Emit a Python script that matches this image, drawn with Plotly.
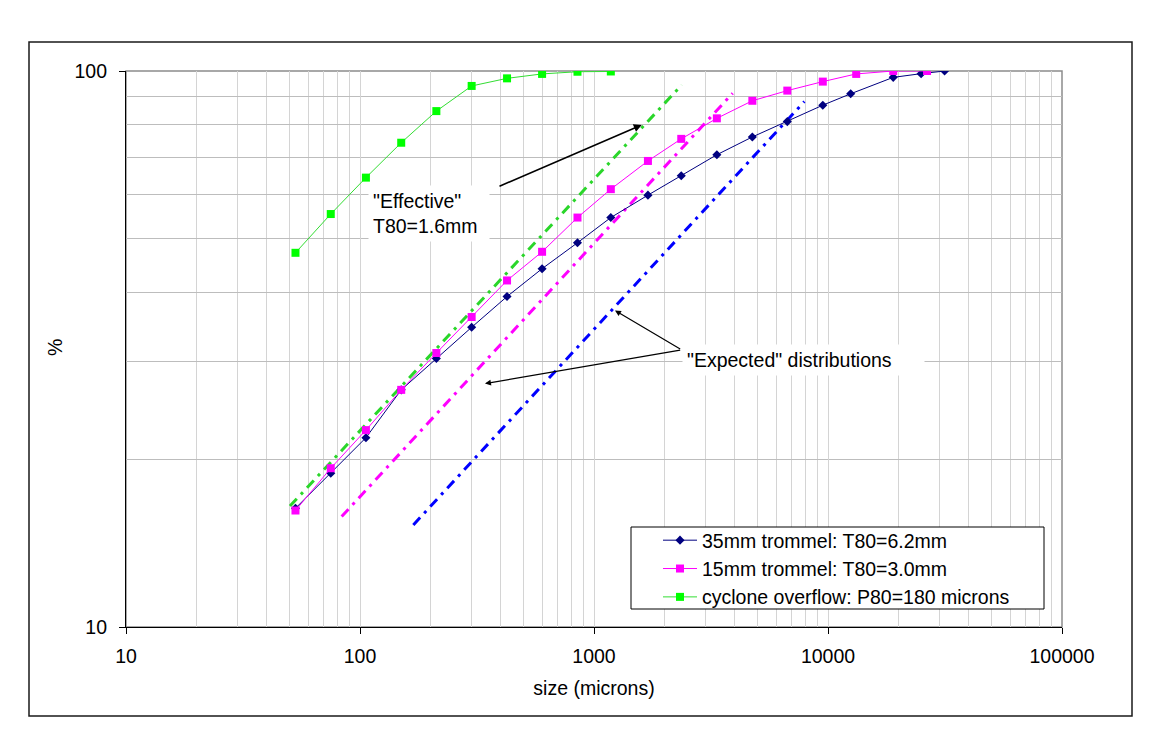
import math
import plotly.graph_objects as go

# ---------------- data ----------------
blue_x = [53, 75, 106, 150, 212, 300, 425, 600, 850, 1180, 1700, 2360, 3350, 4750, 6700, 9500, 12500, 19000, 25000, 31500]
blue_y = [16.35, 18.9, 21.9, 26.7, 30.4, 34.6, 39.3, 44.1, 49.1, 54.5, 59.8, 64.8, 70.7, 76.1, 81.1, 86.8, 91.0, 97.4, 98.9, 100]

pink_x = [53, 75, 106, 150, 212, 300, 425, 600, 850, 1180, 1700, 2360, 3350, 4750, 6700, 9500, 13200, 19000, 26500]
pink_y = [16.2, 19.3, 22.6, 26.7, 31.1, 36.1, 42.0, 47.3, 54.5, 61.3, 68.9, 75.5, 82.2, 88.4, 92.2, 95.7, 98.8, 100, 100]

green_x = [53, 75, 106, 150, 212, 300, 425, 600, 850, 1180]
green_y = [47.1, 55.3, 64.3, 74.3, 84.7, 94.0, 97.0, 98.8, 99.7, 99.8]

# "expected" / "effective" straight-line distributions (end points)
eff_green_x = [50.2, 2371]
eff_green_y = [16.5, 94.4]
exp_pink_x = [83.5, 3914]
exp_pink_y = [15.8, 91.2]
exp_blue_x = [169, 7922]
exp_blue_y = [15.26, 88.1]

x_ticks = [10, 100, 1000, 10000, 100000]
x_ticktext = ["10", "100", "1000", "10000", "100000"]
y_ticks = [10, 100]
y_ticktext = ["10", "100"]

names = ["35mm trommel: T80=6.2mm", "15mm trommel: T80=3.0mm", "cyclone overflow: P80=180 microns"]

FONT = "Liberation Sans, Arial, sans-serif"
FS = 19.5
DASHDOT = "10px,6px,3px,6px"

fig = go.Figure()

for xs, ys, col in [(eff_green_x, eff_green_y, "#2ad62a"),
                    (exp_pink_x, exp_pink_y, "#ff00ff"),
                    (exp_blue_x, exp_blue_y, "#0000ff")]:
    fig.add_trace(go.Scatter(x=xs, y=ys, mode="lines", showlegend=False,
                             line=dict(color=col, width=3, dash=DASHDOT), hoverinfo="skip"))

fig.add_trace(go.Scatter(x=blue_x, y=blue_y, mode="lines+markers", name=names[0],
                         line=dict(color="#000080", width=1),
                         marker=dict(symbol="diamond", size=7, color="#000080")))
fig.add_trace(go.Scatter(x=pink_x, y=pink_y, mode="lines+markers", name=names[1],
                         line=dict(color="#ff00ff", width=1),
                         marker=dict(symbol="square", size=8, color="#ff00ff")))
fig.add_trace(go.Scatter(x=green_x, y=green_y, mode="lines+markers", name=names[2],
                         line=dict(color="#33dd33", width=1),
                         marker=dict(symbol="square", size=8, color="#00ff00")))

L, R, T, B = 126, 98, 71, 125
W, H = 1160, 752
pw, ph = W - L - R, H - T - B


def px2paper_x(px):
    return (px - L) / pw


def px2paper_y(py):
    return (H - B - py) / ph


shapes = [
    # outer chart border
    dict(type="rect", xref="paper", yref="paper",
         x0=px2paper_x(29), x1=px2paper_x(1132), y0=px2paper_y(716), y1=px2paper_y(42),
         line=dict(color="#1a1a1a", width=1.5), layer="below"),
    # plot-area border (grey)
    dict(type="rect", xref="paper", yref="paper", x0=0, x1=1, y0=0, y1=1,
         line=dict(color="#8c8c8c", width=1.5), layer="between"),
    # legend box
    dict(type="rect", xref="paper", yref="paper",
         x0=px2paper_x(631), x1=px2paper_x(1044), y0=px2paper_y(609), y1=px2paper_y(527),
         line=dict(color="black", width=1), fillcolor="white", layer="above"),
]

lg = math.log10
annotations = [
    # effective arrow
    dict(x=lg(1600), y=lg(80.0), ax=lg(388.8), ay=lg(61.9), xref="x", yref="y", axref="x", ayref="y",
         text="", showarrow=True, arrowhead=2, arrowsize=1, arrowwidth=1.6, arrowcolor="black"),
    # expected arrows
    dict(x=lg(1229), y=lg(37.1), ax=lg(2370), ay=lg(31.5), xref="x", yref="y", axref="x", ayref="y",
         text="", showarrow=True, arrowhead=2, arrowsize=1, arrowwidth=1.2, arrowcolor="black"),
    dict(x=lg(342), y=lg(27.4), ax=lg(2370), ay=lg(31.5), xref="x", yref="y", axref="x", ayref="y",
         text="", showarrow=True, arrowhead=2, arrowsize=1, arrowwidth=1.2, arrowcolor="black"),
    dict(x=2.0342, y=1.7446, xref="x", yref="y", xanchor="left", yanchor="middle",
         text="\"Effective\"<br>T80=1.6mm", align="left", showarrow=False, width=112,
         bgcolor="white", borderpad=4, font=dict(family=FONT, size=FS, color="black")),
    dict(x=3.376, y=1.4802, xref="x", yref="y", xanchor="left", yanchor="middle",
         text="\"Expected\" distributions", align="left", showarrow=False, width=233,
         bgcolor="white", borderpad=4, font=dict(family=FONT, size=FS, color="black")),
    # y-axis title
    dict(x=px2paper_x(55), y=px2paper_y(348), xref="paper", yref="paper",
         xanchor="center", yanchor="middle", text="%", textangle=-90, showarrow=False,
         font=dict(family=FONT, size=FS, color="black")),
]

fig.update_layout(
    width=W, height=H,
    margin=dict(l=L, r=R, t=T, b=B, autoexpand=False),
    paper_bgcolor="white", plot_bgcolor="white",
    font=dict(family=FONT, size=FS, color="black"),
    showlegend=True,
    legend=dict(x=px2paper_x(658), y=px2paper_y(521), xanchor="left", yanchor="top",
                bgcolor="rgba(0,0,0,0)", borderwidth=0,
                font=dict(family=FONT, size=FS, color="black"),
                itemwidth=34, tracegroupgap=0),
    shapes=shapes,
    annotations=annotations,
    xaxis=dict(type="log", range=[1, 5], tickvals=x_ticks, ticktext=x_ticktext,
               showline=True, linecolor="black", linewidth=1.2, mirror=False,
               ticks="outside", ticklen=6, tickcolor="black", ticklabelstandoff=5,
               showgrid=True, gridcolor="#d4d4d4", gridwidth=1, zeroline=False,
               minor=dict(dtick="D1", showgrid=True, gridcolor="#d4d4d4", gridwidth=1, ticks=""),
               title=dict(text="size (microns)", standoff=15, font=dict(family=FONT, size=FS))),
    yaxis=dict(type="log", range=[1, 2], tickvals=y_ticks, ticktext=y_ticktext,
               showline=True, linecolor="black", linewidth=1.2, mirror=False,
               ticks="outside", ticklen=6, tickcolor="black", ticklabelstandoff=8,
               showgrid=False, zeroline=False,
               minor=dict(dtick="D1", showgrid=True, gridcolor="#bdbdbd", gridwidth=1, ticks="")),
)

fig.write_html("out.html")
